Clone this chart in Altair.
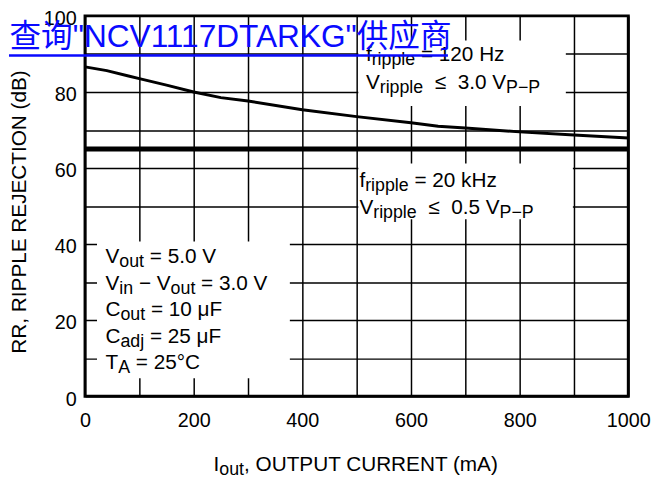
import altair as alt
import pandas as pd

# ---------------- data ----------------
current_ma = [0, 40, 80, 100, 150, 200, 250, 300, 400, 500, 600, 650, 700, 800, 900, 1000]
rr_120hz_db = [86.6, 85.6, 84.2, 83.5, 81.8, 80.0, 78.5, 77.6, 75.3, 73.5, 71.9, 71.0, 70.5, 69.5, 68.7, 67.9]
current_20khz_ma = [0, 1000]
rr_20khz_db = [65.0, 65.0]

x_grid_values = list(range(0, 1001, 100))
y_grid_values = list(range(0, 101, 10))

box1_lines = [[("f", 0), ("ripple", 1), (" = 120 Hz", 0)],
              [("V", 0), ("ripple", 1), ("  \u2264", 0), ("  3.0 V", 0), ("P\u2212P", 1)]]
box2_lines = [[("f", 0), ("ripple", 1), (" = 20 kHz", 0)],
              [("V", 0), ("ripple", 1), ("  \u2264", 0), ("  0.5 V", 0), ("P\u2212P", 1)]]
box3_lines = [[("V", 0), ("out", 1), (" = 5.0 V", 0)],
              [("V", 0), ("in", 1), (" \u2212 V", 0), ("out", 1), (" = 3.0 V", 0)],
              [("C", 0), ("out", 1), (" = 10 \u03bcF", 0)],
              [("C", 0), ("adj", 1), (" = 25 \u03bcF", 0)],
              [("T", 0), ("A", 1), (" = 25\u00b0C", 0)]]
x_title = [("I", 0), ("out", 1), (", OUTPUT CURRENT (mA)", 0)]
y_title = "RR, RIPPLE REJECTION (dB)"
watermark = "\u67e5\u8be2\"NCV1117DTARKG\"\u4f9b\u5e94\u5546"

# ---------------- layout ----------------
FONT = "Liberation Sans"
W, H = 550, 385
PX_MA = W / 1000.0
PX_DB = H / 100.0
MAIN, SUB, DROP = 21, 18, 4

ARIAL = {' ': 278, '!': 278, '"': 355, '(': 333, ')': 333, ',': 278, '-': 333, '.': 278,
         '=': 584, '\u2264': 549, '\u03bc': 576, '\u00b0': 400, '\u2212': 584}
for c in "0123456789":
    ARIAL[c] = 556
ARIAL.update(dict(zip("ABCDEFGHIJKLMNOPQRSTUVWXYZ",
                      [667, 667, 722, 722, 667, 611, 778, 722, 278, 500, 667, 556, 833,
                       722, 778, 667, 778, 722, 667, 611, 722, 667, 944, 667, 667, 611])))
ARIAL.update(dict(zip("abcdefghijklmnopqrstuvwxyz",
                      [556, 556, 500, 556, 556, 278, 556, 556, 222, 222, 500, 222, 833,
                       556, 556, 556, 556, 333, 500, 278, 556, 500, 722, 500, 500, 500])))


def tw(s, size):
    return sum(ARIAL.get(c, 556) for c in s) * size / 1000.0


def line_width(segs):
    return sum(tw(t, SUB if s else MAIN) for t, s in segs)


def layout(segs, x0_ma, base_db):
    rows = []
    xpx = 0.0
    for txt, is_sub in segs:
        size = SUB if is_sub else MAIN
        lead = len(txt) - len(txt.lstrip(' '))
        xpx += tw(' ' * lead, size)
        body = txt.strip(' ')
        rows.append(dict(x=x0_ma + xpx / PX_MA,
                         y=base_db - (DROP / PX_DB if is_sub else 0),
                         text=body, size=size))
        xpx += tw(body, size)
    return rows


rows = []
for segs, b in zip(box1_lines, [88.05, 80.86]):
    rows += layout(segs, 517, b)
for segs, b in zip(box2_lines, [55.06, 47.97]):
    rows += layout(segs, 505, b)
for segs, b in zip(box3_lines, [34.94, 27.97, 21.01, 14.05, 7.09]):
    rows += layout(segs, 37.6, b)
xt_center = 499
rows += layout(x_title, xt_center - line_width(x_title) / 2 / PX_MA, -19.8)
text_df = pd.DataFrame(rows)

boxes = pd.DataFrame({"x": [503, 503, 22], "x2": [885, 898, 377],
                      "y": [76.3, 46.5, 4.7], "y2": [93.5, 61.2, 40.7]})

curve_df = pd.DataFrame({"x": current_ma, "y": rr_120hz_db})
flat_df = pd.DataFrame({"x": current_20khz_ma, "y": rr_20khz_db})
wm_df = pd.DataFrame({"x": [-139], "y": [91.7], "text": [watermark]})
ul_df = pd.DataFrame({"x": [-140], "x2": [668], "y": [89.6]})

xs = alt.Scale(domain=[0, 1000], nice=False)
ys = alt.Scale(domain=[0, 100], nice=False)

x_axis = alt.Axis(values=x_grid_values, format="d",
                  labelExpr="datum.value % 200 === 0 ? datum.label : ''",
                  grid=True, gridColor="black", gridWidth=1.5, gridOpacity=1,
                  ticks=False, domain=False, labelFlush=False, labelOverlap=False,
                  labelFont=FONT, labelFontSize=20, labelColor="black",
                  labelBaseline="alphabetic", labelPadding=31, title=None)
y_axis = alt.Axis(values=y_grid_values, format="d",
                  labelExpr="datum.value % 20 === 0 ? datum.label : ''",
                  grid=True, gridColor="black", gridWidth=1.5, gridOpacity=1,
                  ticks=False, domain=False, labelOverlap=False,
                  labelFont=FONT, labelFontSize=20, labelColor="black", labelPadding=9,
                  labelBaseline="alphabetic", labelOffset=9,
                  title=y_title, titleFont=FONT, titleFontSize=21, titleFontWeight="normal",
                  titleColor="black", titleAngle=270, titleX=-66, titleY=198,
                  titleAlign="center", titleBaseline="middle")


def X(f="x"):
    return alt.X(f"{f}:Q", scale=xs, axis=x_axis)


def Y(f="y"):
    return alt.Y(f"{f}:Q", scale=ys, axis=y_axis)


rects = alt.Chart(boxes).mark_rect(color="white").encode(
    x=X(), x2="x2:Q", y=Y(), y2="y2:Q")

curve = alt.Chart(curve_df).mark_line(color="black", strokeWidth=3).encode(x=X(), y=Y())
flat = alt.Chart(flat_df).mark_line(color="black", strokeWidth=5).encode(x=X(), y=Y())

texts = alt.Chart(text_df).mark_text(align="left", baseline="alphabetic", font=FONT,
                                     color="black").encode(
    x=X(), y=Y(), text="text:N", size=alt.Size("size:Q", scale=None, legend=None))

wm = alt.Chart(wm_df).mark_text(align="left", baseline="alphabetic",
                                font="Liberation Sans, Noto Sans CJK SC",
                                fontSize=32, color="#0a0aff").encode(
    x=X(), y=Y(), text="text:N")
ul = alt.Chart(ul_df).mark_rule(color="#0a0aff", strokeWidth=2.5).encode(
    x=X(), x2="x2:Q", y=Y())

chart = alt.layer(rects, curve, flat, texts, wm, ul).properties(
    width=W, height=H,
    autosize=alt.AutoSizeParams(type="none"),
    padding={"left": 78, "top": 5, "right": 25, "bottom": 90},
).configure_view(stroke="black", strokeWidth=3)

chart.save("out.html", embed_options={"renderer": "svg", "actions": False})
